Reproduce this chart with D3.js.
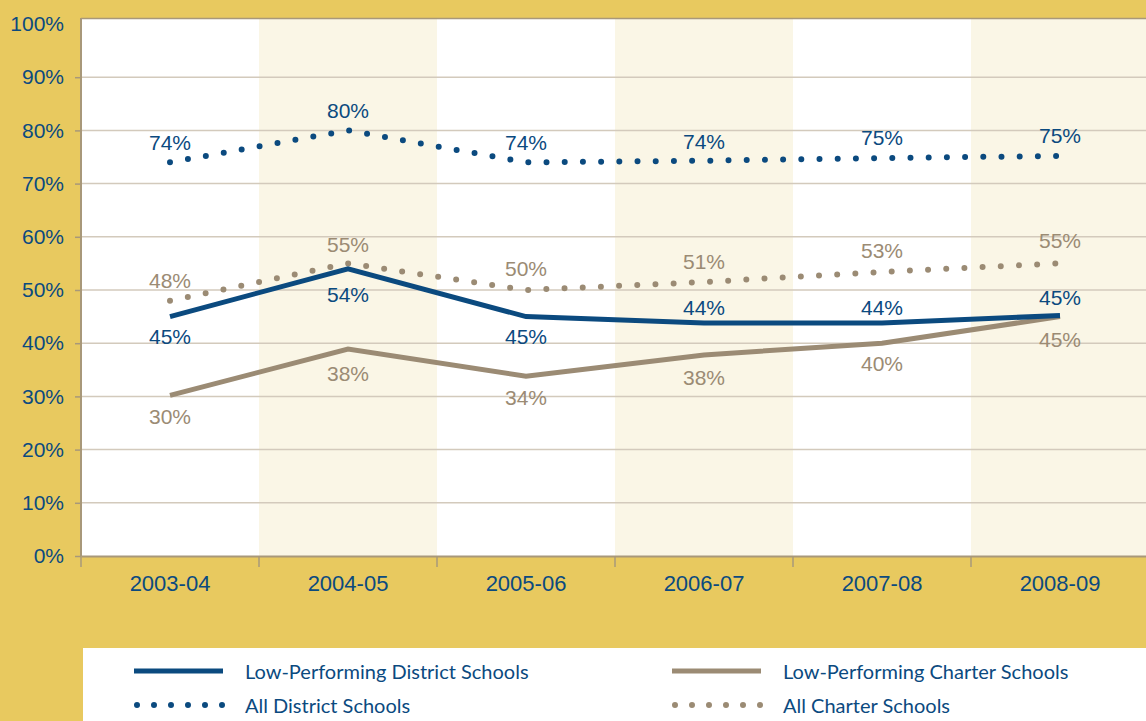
<!DOCTYPE html>
<html>
<head>
<meta charset="utf-8">
<script src="https://cdn.jsdelivr.net/npm/d3@7"></script>
<style>
  body { margin: 0; background: #e8c95f; }
  svg { display: block; }
</style>
</head>
<body>
<div id="chart"></div>
<script>
// school years along the x axis
var years = ["2003-04", "2004-05", "2005-06", "2006-07", "2007-08", "2008-09"];

// percentages
var lowDistrict = [45, 54, 45, 43.8, 43.8, 45.2];
var lowCharter = [30.2, 38.9, 33.8, 37.8, 40, 45];
var allDistrict = [74, 80, 74, 74.3, 74.8, 75.2];
var allCharter = [48, 55, 50, 51.5, 53.4, 55];

// printed labels
var lowDistrictLabels = ["45%", "54%", "45%", "44%", "44%", "45%"];
var lowCharterLabels = ["30%", "38%", "34%", "38%", "40%", "45%"];
var allDistrictLabels = ["74%", "80%", "74%", "74%", "75%", "75%"];
var allCharterLabels = ["48%", "55%", "50%", "51%", "53%", "55%"];

var yTicks = [0, 10, 20, 30, 40, 50, 60, 70, 80, 90, 100];

var blue = "#0b4a7f";
var tan = "#9b8b74";
var gold = "#e8c95f";
var cream = "#faf6e6";
var axisColor = "#a8987a";

var svgWidth = 1146, svgHeight = 721;
var plotLeft = 81, plotTop = 18, plotBottom = 556;
var band = 178;

var svg = d3.select("#chart").append("svg")
    .attr("width", svgWidth)
    .attr("height", svgHeight);

svg.append("rect").attr("width", svgWidth).attr("height", svgHeight).attr("fill", gold);

var x = d3.scaleBand().domain(years).range([plotLeft, plotLeft + band * years.length]);
var y = d3.scaleLinear().domain([0, 100]).range([plotBottom, 24]);

// plot background + alternating bands
svg.append("rect")
    .attr("x", plotLeft).attr("y", plotTop)
    .attr("width", svgWidth - plotLeft).attr("height", plotBottom - plotTop)
    .attr("fill", "#fff");

svg.selectAll(".band")
    .data(years.filter(function(d, i) { return i % 2 == 1; }))
    .enter().append("rect")
    .attr("x", d => x(d))
    .attr("y", plotTop)
    .attr("width", x.bandwidth())
    .attr("height", plotBottom - plotTop)
    .attr("fill", cream);

// top border
svg.append("line")
    .attr("x1", plotLeft).attr("x2", svgWidth)
    .attr("y1", plotTop + 0.5).attr("y2", plotTop + 0.5)
    .attr("stroke", axisColor).attr("stroke-width", 1.5);

// gridlines
svg.selectAll(".grid")
    .data(yTicks.filter(d => d > 0 && d < 100))
    .enter().append("line")
    .attr("x1", plotLeft).attr("x2", svgWidth)
    .attr("y1", d => y(d)).attr("y2", d => y(d))
    .attr("stroke", "#d3cabc").attr("stroke-width", 1.5);

// y axis
var yAxis = svg.append("g")
    .attr("transform", `translate(${plotLeft},0)`)
    .call(d3.axisLeft(y).tickValues(yTicks).tickFormat(d => d + "%").tickSize(6).tickPadding(11));
yAxis.select(".domain").attr("stroke", axisColor).attr("stroke-width", 2)
    .attr("d", `M0,${plotTop}V${plotBottom}`);
yAxis.selectAll(".tick line").attr("stroke", axisColor).attr("stroke-width", 1.5);
yAxis.selectAll(".tick").filter(d => d == 100).select("line").remove();
yAxis.selectAll(".tick text")
    .attr("fill", blue)
    .style("font-family", "Liberation Sans, Arial, sans-serif")
    .style("font-size", "21px");

// x axis
var xAxis = svg.append("g")
    .attr("transform", `translate(0,${plotBottom})`)
    .call(d3.axisBottom(x).tickSize(0).tickPadding(19));
xAxis.select(".domain").attr("stroke", axisColor).attr("stroke-width", 2);
xAxis.selectAll(".tick text")
    .attr("fill", blue)
    .style("font-family", "Liberation Sans, Arial, sans-serif")
    .style("font-size", "22px");
svg.selectAll(".xtick")
    .data(years)
    .enter().append("line")
    .attr("x1", d => x(d)).attr("x2", d => x(d))
    .attr("y1", plotBottom).attr("y2", plotBottom + 11)
    .attr("stroke", axisColor).attr("stroke-width", 1.5);

var line = d3.line()
    .x((d, i) => x(years[i]) + x.bandwidth() / 2)
    .y(d => y(d));

function drawSeries(values, color, dotted) {
    var p = svg.append("path")
        .datum(values)
        .attr("d", line)
        .attr("fill", "none")
        .attr("stroke", color);
    if (dotted) {
        p.attr("stroke-width", 6).attr("stroke-linecap", "round").attr("stroke-dasharray", "0 18.2");
    } else {
        p.attr("stroke-width", 5).attr("stroke-linejoin", "miter");
    }
}

drawSeries(allDistrict, blue, true);
drawSeries(allCharter, tan, true);
drawSeries(lowCharter, tan, false);
drawSeries(lowDistrict, blue, false);

// data labels; offsets above (-) / below (+)
function drawLabels(values, labels, color, offsets) {
    svg.append("g").selectAll("text")
        .data(values)
        .enter().append("text")
        .attr("x", (d, i) => x(years[i]) + x.bandwidth() / 2)
        .attr("y", (d, i) => y(d) + offsets[i])
        .attr("text-anchor", "middle")
        .attr("dominant-baseline", "central")
        .attr("fill", color)
        .style("font-family", "Liberation Sans, Arial, sans-serif")
        .style("font-size", "21px")
        .text((d, i) => labels[i]);
}

drawLabels(allDistrict, allDistrictLabels, blue, [-20, -20, -20, -19, -21, -20]);
drawLabels(allCharter, allCharterLabels, tan, [-20, -19, -22, -21, -21, -23]);
drawLabels(lowDistrict, lowDistrictLabels, blue, [20, 26, 20, -15, -15, -18]);
drawLabels(lowCharter, lowCharterLabels, tan, [21, 24, 21, 23, 20, 23]);

// legend
svg.append("rect")
    .attr("x", 83).attr("y", 648)
    .attr("width", svgWidth - 83).attr("height", svgHeight - 648)
    .attr("fill", "#fff");

var legendItems = [
    { name: "Low-Performing District Schools", color: blue, dotted: false, lx: 134, ly: 671 },
    { name: "Low-Performing Charter Schools", color: tan, dotted: false, lx: 672, ly: 671 },
    { name: "All District Schools", color: blue, dotted: true, lx: 134, ly: 705 },
    { name: "All Charter Schools", color: tan, dotted: true, lx: 672, ly: 705 }
];

legendItems.forEach(function(item) {
    var l = svg.append("line")
        .attr("x1", item.lx + (item.dotted ? 3 : 0))
        .attr("x2", item.lx + (item.dotted ? 92 : 89))
        .attr("y1", item.ly).attr("y2", item.ly)
        .attr("stroke", item.color);
    if (item.dotted) {
        l.attr("stroke-width", 6).attr("stroke-linecap", "round").attr("stroke-dasharray", "0 17");
    } else {
        l.attr("stroke-width", 5);
    }
    svg.append("text")
        .attr("x", item.lx + 111)
        .attr("y", item.ly)
        .attr("dominant-baseline", "central")
        .attr("fill", blue)
        .style("font-family", "Lato, sans-serif")
        .style("font-size", "20px")
        .text(item.name);
});
</script>
</body>
</html>
